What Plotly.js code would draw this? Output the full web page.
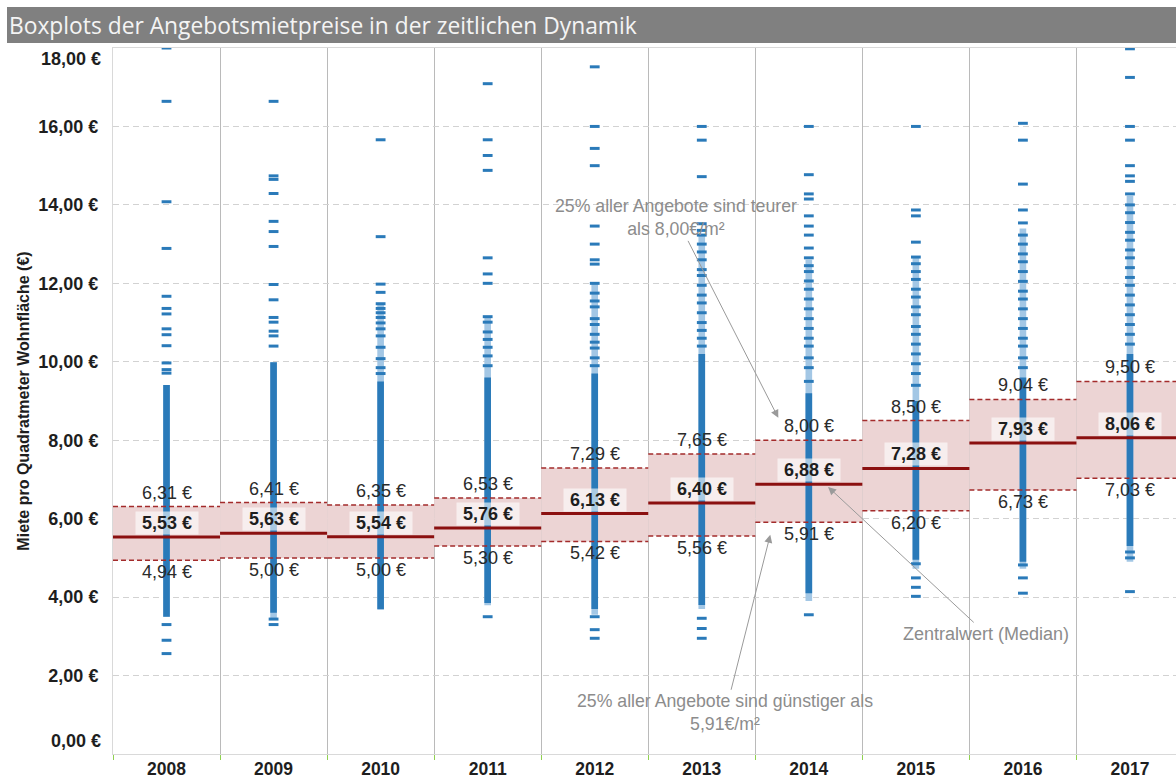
<!DOCTYPE html>
<html>
<head>
<meta charset="utf-8">
<script src="https://cdn.plot.ly/plotly-3.0.1.min.js"></script>
<style>html,body{margin:0;padding:0;background:#fff;}#chart{width:1176px;height:780px;}</style>
</head>
<body>
<div id="chart"></div>
<script>
// ---------- data ----------
const years = ['2008','2009','2010','2011','2012','2013','2014','2015','2016','2017'];
const q1  = [4.94, 5.00, 5.00, 5.30, 5.42, 5.56, 5.91, 6.20, 6.73, 7.03];
const med = [5.53, 5.63, 5.54, 5.76, 6.13, 6.40, 6.88, 7.28, 7.93, 8.06];
const q3  = [6.31, 6.41, 6.35, 6.53, 7.29, 7.65, 8.00, 8.50, 9.04, 9.50];
// range where the individual offers form a continuous (solid) strip
const solidLow  = [3.50, 3.60, 3.70, 3.85, 3.70, 3.80, 4.10, 4.95, 4.90, 5.30];
const solidHigh = [9.41, 9.99, 9.50, 9.60, 9.70, 10.20, 9.20, 9.00, 9.60, 10.20];
// range where the offers are packed closely but still show gaps
const looseLow  = [3.50, 3.44, 3.67, 3.79, 3.55, 3.70, 3.90, 4.72, 4.72, 4.90];
const looseHigh = [9.41, 9.99, 11.50, 11.15, 12.00, 13.25, 12.60, 12.66, 13.40, 14.23];
// individual offers drawn as single marks
const pts2008 = [18.0, 16.64, 14.08, 12.89, 11.67, 11.36, 11.22, 10.84, 10.69, 10.41, 9.97, 9.80, 9.71, 3.30, 2.90, 2.56];
const pts2009 = [16.64, 14.74, 14.65, 14.29, 13.58, 13.32, 12.94, 11.97, 11.58, 11.13, 11.01, 10.78, 10.66, 10.40, 3.44, 3.30];
const pts2010 = [15.66, 13.19, 11.98, 11.77, 11.48, 11.36, 11.25, 11.13, 10.99, 10.84, 10.66, 10.37, 10.08, 9.85, 9.70];
const pts2011 = [17.09, 15.66, 15.26, 14.88, 12.65, 12.24, 12.00, 11.15, 11.01, 10.76, 10.57, 10.37, 10.15, 9.90, 3.50];
const pts2012 = [17.52, 16.00, 15.44, 15.00, 13.46, 13.00, 12.60, 12.49, 12.00, 11.75, 11.55, 11.40, 11.10, 10.95, 10.70, 10.50, 10.35, 10.10, 9.90, 3.50, 3.17, 2.95];
const pts2013 = [16.00, 15.65, 14.72, 13.52, 13.35, 13.23, 13.00, 12.80, 12.60, 12.35, 12.20, 11.95, 11.70, 11.50, 11.25, 11.00, 10.80, 10.60, 10.40, 3.46, 3.20, 2.95];
const pts2014 = [16.00, 14.77, 14.28, 14.15, 13.72, 13.46, 13.23, 12.90, 12.65, 12.45, 12.30, 12.06, 11.85, 11.60, 11.35, 11.10, 10.85, 10.60, 10.40, 10.10, 9.85, 9.50, 3.55];
const pts2015 = [16.00, 13.87, 13.72, 13.05, 12.67, 12.50, 12.30, 12.10, 11.85, 11.65, 11.40, 11.20, 10.90, 10.70, 10.45, 10.20, 9.95, 9.70, 9.40, 4.85, 4.49, 4.25, 4.02];
const pts2016 = [16.08, 15.65, 14.53, 13.87, 13.54, 13.23, 13.00, 12.75, 12.55, 12.30, 12.05, 11.80, 11.60, 11.35, 11.10, 10.85, 10.60, 10.40, 10.10, 9.85, 4.82, 4.49, 4.10];
const pts2017 = [17.98, 17.25, 16.00, 15.65, 15.00, 14.74, 14.60, 14.28, 14.00, 13.80, 13.55, 13.30, 13.10, 12.85, 12.65, 12.40, 12.15, 11.95, 11.70, 11.45, 11.20, 10.95, 10.70, 10.45, 5.15, 5.00, 4.14];
const yTickVals = [2, 4, 6, 8, 10, 12, 14, 16];
const yTickText = ['2,00 €', '4,00 €', '6,00 €', '8,00 €', '10,00 €', '12,00 €', '14,00 €', '16,00 €'];
const yEndVals = [0, 18];
const yEndText = ['0,00 €', '18,00 €'];

// ---------- build ----------
const idx = years.map((_, i) => i);
const allPts = [pts2008, pts2009, pts2010, pts2011, pts2012, pts2013, pts2014, pts2015, pts2016, pts2017];
const fmt = v => v.toFixed(2).replace('.', ',') + ' €';

const segX = [], q1Y = [], q3Y = [], medY = [];
idx.forEach(i => {
  segX.push(i - 0.5, i + 0.5, null);
  q1Y.push(q1[i], q1[i], null);
  q3Y.push(q3[i], q3[i], null);
  medY.push(med[i], med[i], null);
});
const ptX = [], ptY = [];
allPts.forEach((arr, i) => arr.forEach(v => { ptX.push(i); ptY.push(v); }));

const blue = '#2a7ab9';
const red = '#a32b2b';
const traces = [
  { type: 'bar', x: idx, base: q1, y: idx.map(i => q3[i] - q1[i]), width: 1,
    marker: { color: '#ecd4d4', line: { width: 0 } }, hoverinfo: 'skip' },
  { type: 'bar', x: idx, base: looseLow, y: idx.map(i => looseHigh[i] - looseLow[i]), width: 0.062,
    marker: { color: '#a3c7e5', line: { width: 0 } }, hoverinfo: 'skip' },
  { type: 'bar', x: idx, base: solidLow, y: idx.map(i => solidHigh[i] - solidLow[i]), width: 0.062,
    marker: { color: blue, line: { width: 0 } }, hoverinfo: 'skip' },
  { type: 'scatter', mode: 'markers', x: ptX, y: ptY,
    marker: { symbol: 'line-ew', size: 7, line: { width: 3, color: blue } }, hoverinfo: 'skip' },
  { type: 'scatter', mode: 'lines', x: segX, y: q1Y, line: { color: red, width: 1.5, dash: '5px,3px' }, hoverinfo: 'skip' },
  { type: 'scatter', mode: 'lines', x: segX, y: q3Y, line: { color: red, width: 1.5, dash: '5px,3px' }, hoverinfo: 'skip' },
  { type: 'scatter', mode: 'lines', x: segX, y: medY, line: { color: '#8b1010', width: 3 }, hoverinfo: 'skip' }
];

const labFont = { family: 'Liberation Sans, Arial, sans-serif', size: 18, color: '#2b2b2b' };
const annotations = [];
idx.forEach(i => {
  annotations.push({ x: i, y: q3[i], text: fmt(q3[i]), showarrow: false, yanchor: 'middle', yshift: 14, font: labFont });
  annotations.push({ x: i, y: q1[i], text: fmt(q1[i]), showarrow: false, yanchor: 'middle', yshift: -12, font: labFont });
  annotations.push({ x: i, y: med[i], text: ' ' + fmt(med[i]) + ' ', showarrow: false, yanchor: 'middle', yshift: 14,
    bgcolor: 'rgba(255,255,255,0.6)', borderpad: 1,
    font: Object.assign({}, labFont, { weight: 'bold', color: '#1e1e1e' }) });
});
const tickFont = { family: 'Liberation Sans, Arial, sans-serif', size: 18, color: '#1e1e1e', weight: 'bold' };
yEndVals.forEach((v, k) => {
  annotations.push({ xref: 'paper', x: 0, xanchor: 'right', xshift: -10, y: v, yanchor: 'middle',
    yshift: v === 0 ? 13 : -11, text: yEndText[k], showarrow: false, font: tickFont });
});
const noteFont = { family: 'Liberation Sans, Arial, sans-serif', size: 17.7, color: '#8c8c8c' };
annotations.push({ x: 5.715, y: 8.57, ax: -102, ay: -200, text: '25% aller Angebote sind teurer<br>als 8,00€/m²',
  showarrow: true, arrowhead: 2, arrowsize: 1.6, arrowwidth: 1, arrowcolor: '#9a9a9a', font: noteFont });
annotations.push({ x: 5.64, y: 5.59, ax: -45, ay: 178, text: '25% aller Angebote sind günstiger als<br>5,91€/m²',
  showarrow: true, arrowhead: 2, arrowsize: 1.6, arrowwidth: 1, arrowcolor: '#9a9a9a', font: noteFont });
annotations.push({ x: 6.18, y: 6.81, ax: 158, ay: 147, text: 'Zentralwert (Median)',
  showarrow: true, arrowhead: 2, arrowsize: 1.6, arrowwidth: 1, arrowcolor: '#9a9a9a',
  font: Object.assign({}, noteFont, { size: 18 }) });

const layout = {
  width: 1176, height: 780,
  margin: { l: 113, r: 0, t: 48, b: 26, pad: 0 },
  paper_bgcolor: '#ffffff', plot_bgcolor: '#ffffff',
  showlegend: false, barmode: 'overlay',
  title: { text: 'Boxplots der Angebotsmietpreise in der zeitlichen Dynamik',
    font: { family: 'Open Sans, sans-serif', size: 22.8, color: '#f4f4f4' },
    xref: 'container', x: 9 / 1176, xanchor: 'left', yref: 'container', y: 1 - 26 / 780, yanchor: 'middle' },
  xaxis: {
    range: [-0.5, 9.43], tickmode: 'array', tickvals: idx, ticktext: years,
    showgrid: false, zeroline: false, showline: true, linecolor: '#d9d9d9', mirror: true,
    ticks: '', tickfont: Object.assign({}, tickFont, { size: 17.5 }), ticklabelstandoff: -1,
    minor: { tickmode: 'linear', tick0: -0.5, dtick: 1, showgrid: true, gridcolor: '#bababa', gridwidth: 1,
      ticks: 'outside', ticklen: 5, tickcolor: '#8fd14f', tickwidth: 1 }
  },
  yaxis: {
    range: [0, 18], tickmode: 'array', tickvals: yTickVals, ticktext: yTickText,
    showgrid: true, gridcolor: '#d2d2d2', gridwidth: 1, griddash: '6px,4px',
    zeroline: false, showline: true, linecolor: '#d9d9d9', ticks: '', ticklabelstandoff: 10,
    tickfont: tickFont,
    title: { text: 'Miete pro Quadratmeter Wohnfläche (€)', standoff: 4,
      font: { family: 'Liberation Sans, Arial, sans-serif', size: 16, color: '#1e1e1e', weight: 'bold' } }
  },
  shapes: [
    { type: 'rect', xref: 'paper', yref: 'paper', x0: (7 - 113) / 1063, x1: 1, y0: 1 + 5 / 706, y1: 1 + 41 / 706,
      fillcolor: '#808080', line: { width: 0 }, layer: 'below' }
  ],
  annotations: annotations
};

Plotly.newPlot('chart', traces, layout, { staticPlot: true, displayModeBar: false });
</script>
</body>
</html>
